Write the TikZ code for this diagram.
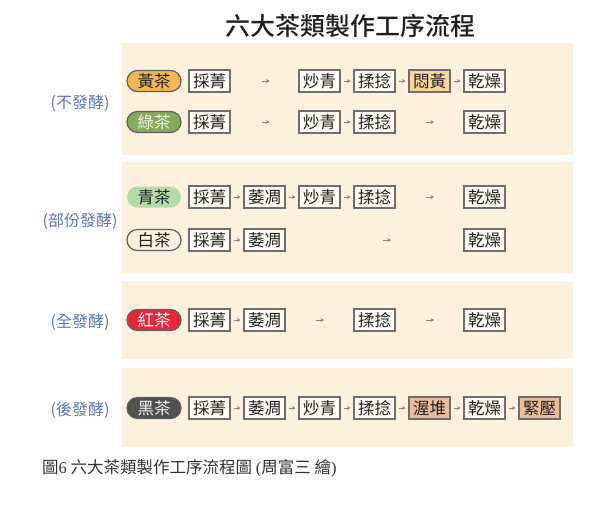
\documentclass[tikz,border=0pt]{standalone}
\usepackage{fontspec}
\usetikzlibrary{arrows.meta}
\newfontfamily\cjk{Noto Sans CJK TC}
\newfontfamily\cjkmed{Noto Sans CJK TC Medium}
\newfontfamily\latserif{Liberation Serif}
\definecolor{panelbg}{RGB}{253,241,221}
\definecolor{boxfill}{RGB}{255,251,242}
\definecolor{boxline}{RGB}{110,110,110}
\definecolor{txt}{RGB}{35,31,32}
\definecolor{arrgrey}{RGB}{140,130,118}
\definecolor{lblblue}{RGB}{92,116,190}
\definecolor{hlorange}{RGB}{250,214,156}
\definecolor{hltan}{RGB}{232,190,152}
\definecolor{pillline}{RGB}{95,95,95}
\definecolor{cyellow}{RGB}{240,184,84}
\definecolor{cgreen}{RGB}{134,170,92}
\definecolor{clgreen}{RGB}{180,219,168}
\definecolor{cred}{RGB}{232,38,58}
\definecolor{cblack}{RGB}{80,80,82}
\begin{document}
\begin{tikzpicture}[x=1pt,y=-1pt,
  panel/.style={fill=panelbg,draw=none},
  stepbox/.style={draw=boxline,line width=1.1pt,fill=boxfill,minimum width=41pt,minimum height=22pt,inner sep=0pt,font=\cjk\fontsize{16.5}{16.5}\selectfont,text=txt},
  pill/.style={rounded corners=10.5pt,minimum width=54pt,minimum height=21pt,inner sep=0pt,line width=1.2pt,draw=pillline,font=\cjk\fontsize{16.5}{16.5}\selectfont,text=txt},
  arr/.style={-{Stealth[length=3.5pt,width=3.8pt]},draw=arrgrey,line width=0.8pt,shorten >=3pt,shorten <=3pt},
  freearr/.style={-{Stealth[length=3.5pt,width=3.8pt]},draw=arrgrey,line width=0.8pt},
  grp/.style={text=lblblue,font=\cjk\fontsize{16}{16}\selectfont}]
\useasboundingbox (0,0) rectangle (593,507);
% title
\node[font=\cjkmed\fontsize{25}{25}\selectfont,text=txt] (title) at (350,26) {六大茶類製作工序流程};
% panels
\fill[panel] (122,43) rectangle (573,155);
\fill[panel] (122,162) rectangle (573,273);
\fill[panel] (122,281) rectangle (573,359);
\fill[panel] (122,368) rectangle (573,447);
% group labels
\node[grp] (g1) at (80,103) {(不發酵)};
\node[grp] (g2) at (80,221) {(部份發酵)};
\node[grp] (g3) at (80,322) {(全發酵)};
\node[grp] (g4) at (80,410) {(後發酵)};
% row 1
\node[pill,fill=cyellow] (t1) at (154,81) {黃茶};
\node[stepbox] (a1) at (209.5,81) {採菁};
\coordinate (f1s) at (261.5,81); \coordinate (f1e) at (269.5,81);
\node[stepbox] (a3) at (319.5,81) {炒青};
\node[stepbox] (a4) at (374.5,81) {揉捻};
\node[stepbox,fill=hlorange] (a5) at (429.5,81) {悶黃};
\node[stepbox] (a6) at (484.5,81) {乾燥};
\draw[freearr] (f1s) -- (f1e);
\draw[arr] (a3) -- (a4);
\draw[arr] (a4) -- (a5);
\draw[arr] (a5) -- (a6);
% row 2
\node[pill,fill=cgreen,text={rgb,255:red,238;green,246;blue,228}] (t2) at (154,122) {綠茶};
\node[stepbox] (b1) at (209.5,122) {採菁};
\coordinate (f2s) at (261.5,122); \coordinate (f2e) at (269.5,122);
\node[stepbox] (b3) at (319.5,122) {炒青};
\node[stepbox] (b4) at (374.5,122) {揉捻};
\coordinate (f3s) at (426,122); \coordinate (f3e) at (434,122);
\node[stepbox] (b6) at (484.5,122) {乾燥};
\draw[freearr] (f2s) -- (f2e);
\draw[arr] (b3) -- (b4);
\draw[freearr] (f3s) -- (f3e);
% row 3
\node[pill,fill=clgreen,draw=none] (t3) at (154,197) {青茶};
\node[stepbox] (c1) at (209.5,197) {採菁};
\node[stepbox] (c2) at (264.5,197) {萎凋};
\node[stepbox] (c3) at (319.5,197) {炒青};
\node[stepbox] (c4) at (374.5,197) {揉捻};
\coordinate (f4s) at (426,197); \coordinate (f4e) at (434,197);
\node[stepbox] (c6) at (484.5,197) {乾燥};
\draw[arr] (c1) -- (c2);
\draw[arr] (c2) -- (c3);
\draw[arr] (c3) -- (c4);
\draw[freearr] (f4s) -- (f4e);
% row 4
\node[pill,fill=panelbg] (t4) at (154,240) {白茶};
\node[stepbox] (d1) at (209.5,240) {採菁};
\node[stepbox] (d2) at (264.5,240) {萎凋};
\coordinate (f5s) at (383,240); \coordinate (f5e) at (391,240);
\node[stepbox] (d6) at (484.5,240) {乾燥};
\draw[arr] (d1) -- (d2);
\draw[freearr] (f5s) -- (f5e);
% row 5
\node[pill,fill=cred,text=white] (t5) at (154,320) {紅茶};
\node[stepbox] (e1) at (209.5,320) {採菁};
\node[stepbox] (e2) at (264.5,320) {萎凋};
\coordinate (f6s) at (316,320); \coordinate (f6e) at (324,320);
\node[stepbox] (e4) at (374.5,320) {揉捻};
\coordinate (f7s) at (426,320); \coordinate (f7e) at (434,320);
\node[stepbox] (e6) at (484.5,320) {乾燥};
\draw[arr] (e1) -- (e2);
\draw[freearr] (f6s) -- (f6e);
\draw[freearr] (f7s) -- (f7e);
% row 6
\node[pill,fill=cblack,text={rgb,255:red,240;green,240;blue,240}] (t6) at (154,408) {黑茶};
\node[stepbox] (h1) at (209.5,408) {採菁};
\node[stepbox] (h2) at (264.5,408) {萎凋};
\node[stepbox] (h3) at (319.5,408) {炒青};
\node[stepbox] (h4) at (374.5,408) {揉捻};
\node[stepbox,fill=hltan] (h5) at (429.5,408) {渥堆};
\node[stepbox] (h6) at (484.5,408) {乾燥};
\node[stepbox,fill=hltan] (h7) at (539.5,408) {緊壓};
\draw[arr] (h1) -- (h2);
\draw[arr] (h2) -- (h3);
\draw[arr] (h3) -- (h4);
\draw[arr] (h4) -- (h5);
\draw[arr] (h5) -- (h6);
\draw[arr] (h6) -- (h7);
% caption
\node[anchor=west,inner sep=0pt,text={rgb,255:red,51;green,51;blue,51},font=\cjk\fontsize{16.5}{16.5}\selectfont] (cap) at (42,468) {圖{\latserif 6} 六大茶類製作工序流程圖 {\latserif (}周富三 繪{\latserif )}};
\end{tikzpicture}
\end{document}
